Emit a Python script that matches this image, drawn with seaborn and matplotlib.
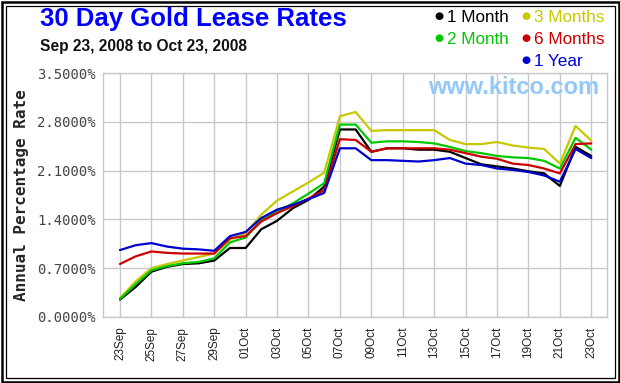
import numpy as np
import pandas as pd
import matplotlib
matplotlib.use("Agg")
import matplotlib.pyplot as plt
import matplotlib.dates as mdates
from matplotlib.patches import Rectangle
from matplotlib.ticker import FuncFormatter
import seaborn as sns

dates = pd.date_range("2008-09-23", "2008-10-23", freq="D")

one_month = [0.25, 0.43, 0.65, 0.72, 0.76, 0.77, 0.81, 0.99, 0.99, 1.26, 1.38, 1.56, 1.68, 1.87,
             2.69, 2.69, 2.37, 2.42, 2.42, 2.40, 2.40, 2.37, 2.28, 2.19, 2.16, 2.13, 2.09, 2.06,
             1.88, 2.44, 2.31]
two_month = [0.26, 0.47, 0.67, 0.73, 0.77, 0.79, 0.84, 1.07, 1.14, 1.39, 1.51, 1.63, 1.77, 1.92,
             2.76, 2.76, 2.50, 2.52, 2.52, 2.51, 2.49, 2.44, 2.38, 2.35, 2.31, 2.29, 2.28, 2.24,
             2.13, 2.57, 2.40]
three_months = [0.27, 0.51, 0.70, 0.76, 0.81, 0.86, 0.91, 1.11, 1.20, 1.47, 1.67, 1.80, 1.93, 2.07,
                2.88, 2.94, 2.67, 2.68, 2.68, 2.68, 2.68, 2.54, 2.48, 2.48, 2.51, 2.46, 2.43, 2.41,
                2.20, 2.74, 2.53]
six_months = [0.76, 0.87, 0.94, 0.92, 0.91, 0.91, 0.91, 1.13, 1.16, 1.37, 1.49, 1.59, 1.70, 1.82,
              2.55, 2.54, 2.37, 2.42, 2.42, 2.42, 2.42, 2.40, 2.35, 2.30, 2.27, 2.20, 2.18, 2.13,
              2.06, 2.48, 2.49]
one_year = [0.96, 1.03, 1.06, 1.01, 0.98, 0.97, 0.95, 1.16, 1.22, 1.42, 1.54, 1.61, 1.69, 1.78,
            2.42, 2.42, 2.25, 2.25, 2.24, 2.23, 2.25, 2.28, 2.20, 2.18, 2.13, 2.11, 2.08, 2.03,
            1.94, 2.41, 2.28]

series_names = ["1 Month", "3 Months", "2 Month", "6 Months", "1 Year"]
series_colors = ["#000000", "#c8c800", "#00c800", "#cc0000", "#0000cc"]
series_values = [one_month, three_months, two_month, six_months, one_year]

df = pd.concat(
    [pd.DataFrame({"date": dates, "rate": vals, "series": name})
     for name, vals in zip(series_names, series_values)],
    ignore_index=True,
)

sns.set_style("white")

fig = plt.figure(figsize=(6.2, 3.83), dpi=100)
ax = fig.add_axes([103 / 620, 1 - 317 / 383, 504 / 620, 244 / 383])

sns.lineplot(
    data=df, x="date", y="rate", hue="series",
    palette=dict(zip(series_names, series_colors)),
    hue_order=series_names, linewidth=1.6, legend=False, ax=ax,
)

ax.set_ylim(0, 3.5)
ax.set_yticks(np.arange(0, 3.51, 0.7))
ax.yaxis.set_major_formatter(FuncFormatter(lambda v, _: f"{v:.4f}%"))
ax.set_xlim(dates[0] - pd.Timedelta(days=1.08), dates[-1] + pd.Timedelta(days=1.0))
ax.set_xticks(dates[::2])
ax.xaxis.set_major_formatter(mdates.DateFormatter("%d%b"))

ax.grid(True, color="#c8c8c8", linewidth=1.0)
ax.set_axisbelow(True)
for sp in ax.spines.values():
    sp.set_color("#c8c8c8")
    sp.set_linewidth(1.0)

ax.tick_params(axis="both", length=0)
ax.tick_params(axis="x", pad=7, labelsize=8.5, rotation=90, labelcolor="#222222")
ax.tick_params(axis="y", pad=5, labelcolor="#444444")
for lbl in ax.get_yticklabels():
    lbl.set_family("DejaVu Sans Mono")
    lbl.set_fontsize(10)
for lbl in ax.get_xticklabels():
    lbl.set_family("Liberation Sans")

ax.set_xlabel("")
ax.set_ylabel("Annual Percentage Rate", family="DejaVu Sans Mono", fontweight="bold",
              fontsize=11.5, labelpad=6)

fig.text(40 / 620, 1 - 19 / 383, "30 Day Gold Lease Rates", color="#0000ff",
         fontsize=18.5, fontweight="bold", family="Liberation Sans", va="center")
fig.text(40 / 620, 1 - 47 / 383, "Sep 23, 2008 to Oct 23, 2008", color="#111111",
         fontsize=11.2, fontweight="bold", family="Liberation Sans", va="center")
fig.text(514 / 620, 1 - 88 / 383, "www.kitco.com", color="#94c8f8",
         fontsize=17, fontweight="bold", family="Liberation Sans", ha="center", va="center")

# legend drawn as text with dot markers
legend_pos = [(439, 16), (526, 16), (439, 38), (526, 38), (526, 60)]
for (px, py), name, col in zip(legend_pos, series_names, series_colors):
    fig.text(px / 620, 1 - py / 383, "\u25cf", color=col, fontsize=7.5,
             ha="center", va="center", family="DejaVu Sans")
    fig.text((px + 8) / 620, 1 - (py + 1) / 383, name, color=col, fontsize=12.3,
             ha="left", va="center", family="Liberation Sans")

# double frame around the image
fig.patches.append(Rectangle((1.5 / 620, 1.5 / 383), 617 / 620, 380 / 383, fill=False,
                             edgecolor="black", linewidth=1.8, transform=fig.transFigure))
fig.patches.append(Rectangle((5.5 / 620, 5.5 / 383), 609 / 620, 372 / 383, fill=False,
                             edgecolor="black", linewidth=0.9, transform=fig.transFigure))

fig.savefig("out.png", dpi=100)
plt.close(fig)
